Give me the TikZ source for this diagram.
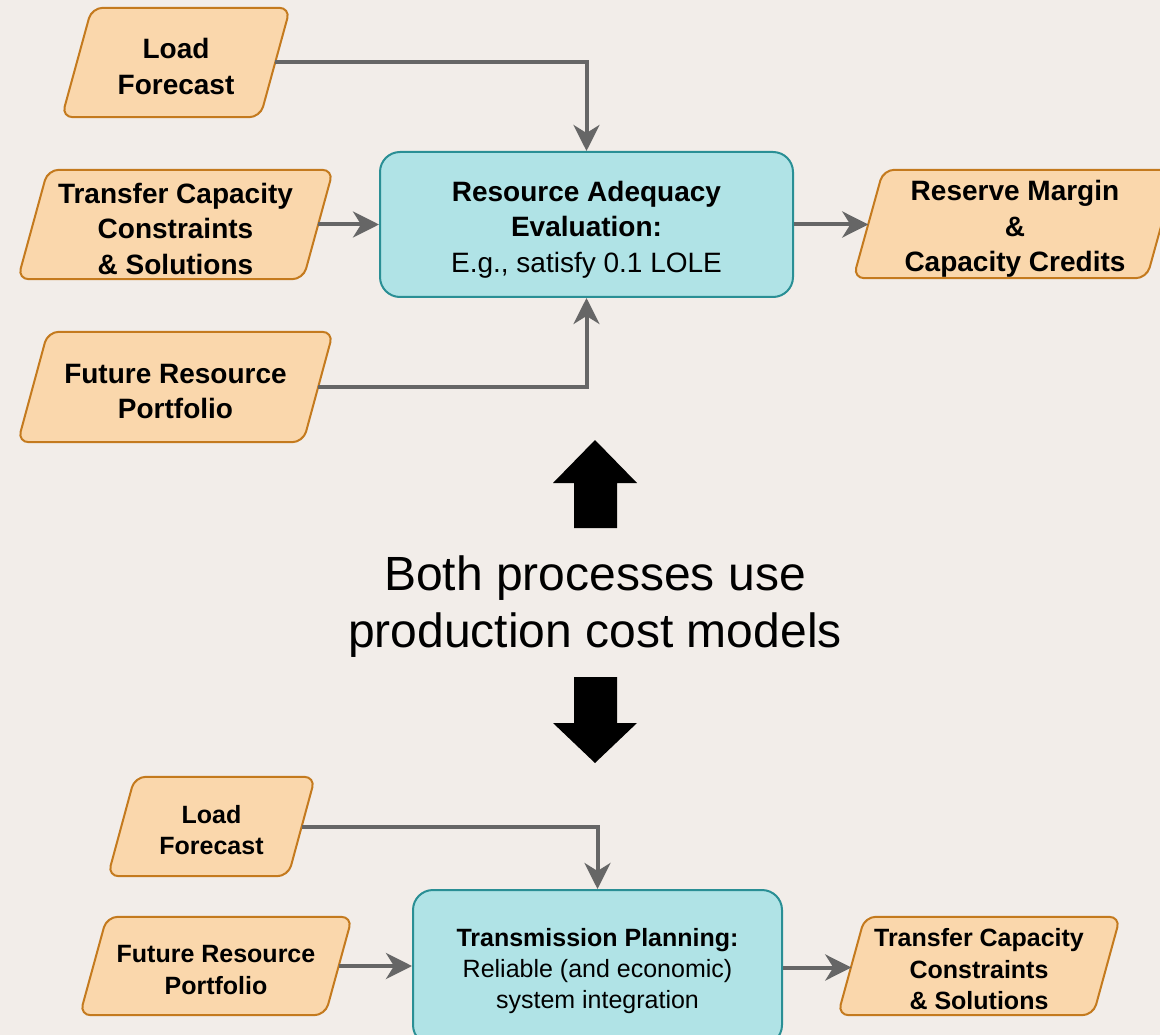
\documentclass[tikz,border=0pt]{standalone}
\usepackage{fontspec}
\setmainfont{Liberation Sans}
\usetikzlibrary{arrows.meta,backgrounds}

\definecolor{bgcol}{HTML}{F2EDE9}
\definecolor{orfill}{HTML}{FAD7AC}
\definecolor{orline}{HTML}{C47A1E}
\definecolor{cyfill}{HTML}{B0E3E6}
\definecolor{cyline}{HTML}{2A8F95}
\definecolor{conncol}{HTML}{666666}

% parallelogram drawn around a text node: #1 node name, #2 half of the slant
\newcommand\slantbox[2]{%
  \draw[parashape] ([xshift=#2]#1.north west) -- ([xshift=#2]#1.north east)
    -- ([xshift=-#2]#1.south east) -- ([xshift=-#2]#1.south west) -- cycle;}
% invisible strut that lowers a text block a little inside its node
\newcommand\firstline[1]{\rule{0pt}{#1}}

\tikzset{
  parashape/.style={draw=orline, fill=orfill, line width=2pt, rounded corners=11pt},
  datatext/.style={inner sep=0pt, align=center, text=black},
  bigtxt/.style={font=\fontsize{28}{35.5}\selectfont\bfseries},
  smalltxt/.style={font=\fontsize{25}{31.5}\selectfont\bfseries},
  procbox/.style={draw=cyline, fill=cyfill, line width=2pt, rounded corners=20pt,
    inner sep=0pt, align=center, text=black},
  conn/.style={draw=conncol, line width=4pt,
    -{Stealth[length=26pt, width=26pt, inset=8pt]}},
  bigarrow/.style={fill=black}
}

\begin{document}
\begin{tikzpicture}[x=1pt, y=-1pt]
\useasboundingbox (0,0) rectangle (1160,1035);
\begin{scope}[on background layer]
  \fill[bgcol] (0,0) rectangle (1160,1035);
\end{scope}

% ---------- resource adequacy ----------
\node[datatext, bigtxt, minimum width=198pt, minimum height=109pt] (lf1) at (176,62.5) {\firstline{28pt}Load\\Forecast};
\node[datatext, bigtxt, minimum width=285pt, minimum height=109pt] (tc1) at (175.5,224.5) {\firstline{29pt}Transfer Capacity\\Constraints\\\& Solutions};
\node[datatext, bigtxt, minimum width=285pt, minimum height=110pt] (fr1) at (175.5,387) {\firstline{28pt}Future Resource\\Portfolio};
\node[datatext, bigtxt, minimum width=293pt, minimum height=108pt] (rm) at (1015,224) {\firstline{30pt}Reserve Margin\\\&\\Capacity Credits};
\node[procbox, font=\fontsize{28}{35.5}\selectfont, minimum width=413pt, minimum height=145pt] (ra) at (586.5,224.5)
  {\firstline{30pt}\textbf{Resource Adequacy}\\\textbf{Evaluation:}\\E.g., satisfy 0.1 LOLE};

\draw[conn] (lf1.east) -| (ra.north);
\draw[conn] (tc1.east) -- (tc1.east -| ra.west);
\draw[conn] (fr1.east) -| (ra.south);
\draw[conn] (ra.east) -- (ra.east -| rm.west);

% ---------- shared statement ----------
\node[datatext, font=\fontsize{48}{57}\selectfont] (both) at (595,601) {\firstline{45pt}Both processes use\\production cost models};
\fill[bigarrow] (595,440) -- (637,483) -- (617,483) -- (617,528) -- (574,528) -- (574,483) -- (553,483) -- cycle;
\fill[bigarrow] (574,677) -- (617,677) -- (617,723) -- (637,723) -- (595,763) -- (553,723) -- (574,723) -- cycle;

% ---------- transmission planning ----------
\node[datatext, smalltxt, minimum width=180pt, minimum height=99pt] (lf2) at (211.5,826.5) {\firstline{25pt}Load\\Forecast};
\node[datatext, smalltxt, minimum width=245pt, minimum height=98pt] (fr2) at (216,966) {\firstline{25pt}Future Resource\\Portfolio};
\node[datatext, smalltxt, minimum width=255pt, minimum height=98pt] (tc2) at (979,966) {\firstline{25pt}Transfer Capacity\\Constraints\\\& Solutions};
\node[procbox, font=\fontsize{25}{31}\selectfont, minimum width=369pt, minimum height=155pt] (tp) at (597.5,967.5)
  {\firstline{26pt}\textbf{Transmission Planning:}\\Reliable (and economic)\\system integration};

\draw[conn] (lf2.east) -| (tp.north);
\draw[conn] (fr2.east) -- (fr2.east -| tp.west);
\draw[conn] (tp.east) -- (tp.east -| tc2.west);

% parallelogram outlines behind the texts
\begin{scope}[on background layer]
  \slantbox{lf1}{15pt}
  \slantbox{tc1}{15pt}
  \slantbox{fr1}{15pt}
  \slantbox{rm}{15pt}
  \slantbox{lf2}{13.5pt}
  \slantbox{fr2}{13.5pt}
  \slantbox{tc2}{13.5pt}
\end{scope}
\end{tikzpicture}
\end{document}
